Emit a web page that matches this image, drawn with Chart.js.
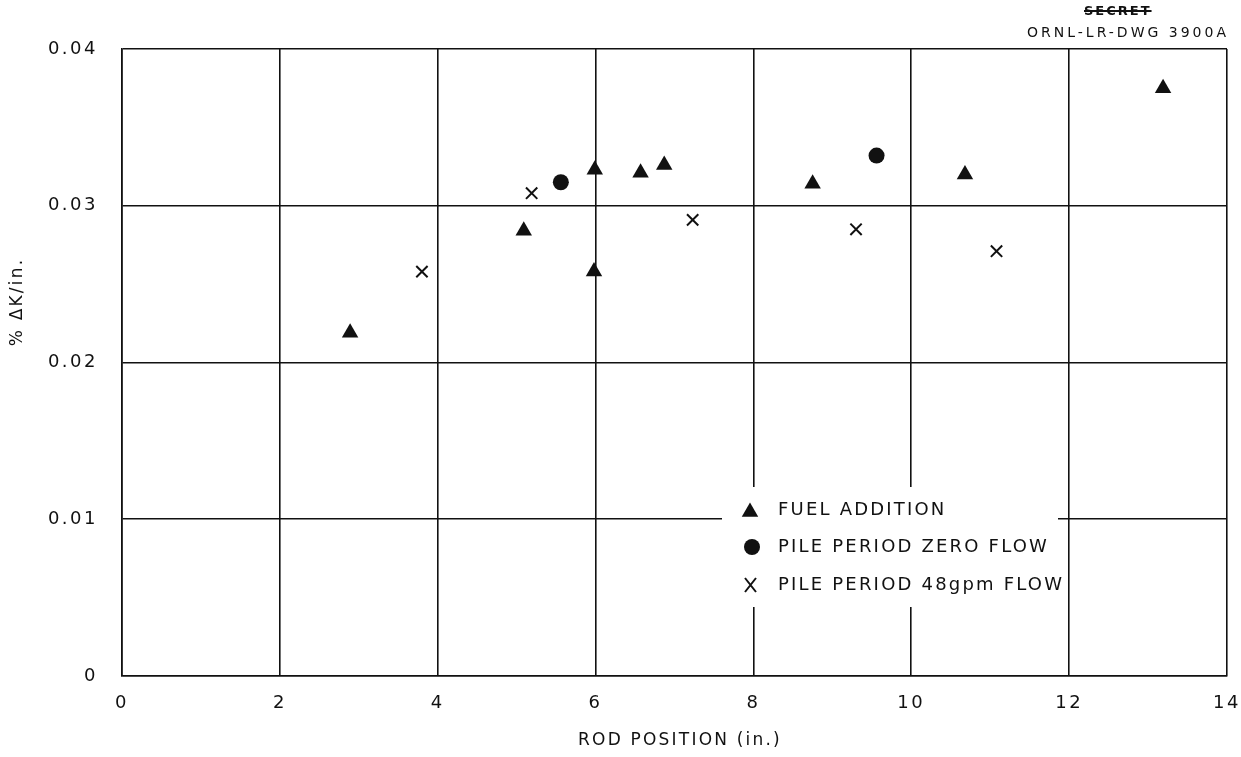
<!DOCTYPE html>
<html>
<head>
<meta charset="utf-8">
<script src="https://cdn.jsdelivr.net/npm/chart.js@4/dist/chart.umd.min.js"></script>
<style>
  html, body { margin: 0; padding: 0; background: #fff; }
  #wrap { position: relative; width: 1241px; height: 757px; }
  #c { position: absolute; left: 0; top: 0; }
  .lbl { position: absolute; font-family: "DejaVu Sans", sans-serif; color: #111; white-space: nowrap; }
  #secret { left: 1084px; top: 3px; font-size: 13px; font-weight: bold; letter-spacing: 2px; text-decoration: line-through; text-decoration-thickness: 2px; }
  #dwg { right: 12px; top: 24px; font-size: 14px; letter-spacing: 3px; }
</style>
</head>
<body>
<div id="wrap">
  <canvas id="c" width="1241" height="757"></canvas>
  <div class="lbl" id="secret">SECRET</div>
  <div class="lbl" id="dwg">ORNL-LR-DWG 3900A</div>
</div>
<script>
// ---- data ----
const fuelX = [2.89, 5.09, 5.99, 5.98, 6.57, 6.87, 8.75, 10.68, 13.19];
const fuelY = [0.0219, 0.0284, 0.0323, 0.0258, 0.0321, 0.0326, 0.0314, 0.0320, 0.0375];
const zeroX = [5.56, 9.56];
const zeroY = [0.0315, 0.0332];
const flowX = [3.80, 5.19, 7.23, 9.30, 11.08];
const flowY = [0.0258, 0.0308, 0.0291, 0.0285, 0.0271];
const xTicks = [0, 2, 4, 6, 8, 10, 12, 14];
const yTicks = [0, 0.01, 0.02, 0.03, 0.04];
const seriesNames = ["FUEL ADDITION", "PILE PERIOD ZERO FLOW", "PILE PERIOD 48gpm FLOW"];
const xTitle = "ROD POSITION (in.)";
const yTitle = "% \u0394K/in.";

const pts = (xs, ys) => xs.map((x, i) => ({ x: x, y: ys[i] }));
const INK = '#111';
const FONT = '"DejaVu Sans", sans-serif';

const decor = {
  id: 'decor',
  beforeDraw(chart) {
    chart.ctx.letterSpacing = '2.5px';
  },
  afterDatasetsDraw(chart) {
    const ctx = chart.ctx;
    ctx.save();
    // legend background (interrupts grid)
    ctx.fillStyle = '#fff';
    ctx.fillRect(722, 487, 336, 120);
    ctx.fillStyle = INK;
    ctx.strokeStyle = INK;
    // triangle
    const r = 9.5, tx = 750, ty = 512;
    ctx.beginPath();
    ctx.moveTo(tx, ty - r);
    ctx.lineTo(tx + r * Math.sin(2 * Math.PI / 3), ty + r / 2);
    ctx.lineTo(tx - r * Math.sin(2 * Math.PI / 3), ty + r / 2);
    ctx.closePath();
    ctx.fill();
    // circle
    ctx.beginPath();
    ctx.arc(752, 547, 8, 0, Math.PI * 2);
    ctx.fill();
    // X
    ctx.lineWidth = 2;
    ctx.beginPath();
    ctx.moveTo(745, 578); ctx.lineTo(756, 592);
    ctx.moveTo(756, 578); ctx.lineTo(745, 592);
    ctx.stroke();
    // legend text
    ctx.letterSpacing = '2.2px';
    ctx.font = '18px ' + FONT;
    ctx.textBaseline = 'middle';
    ctx.textAlign = 'left';
    ctx.fillText(seriesNames[0], 778, 510);
    ctx.fillText(seriesNames[1], 778, 547);
    ctx.fillText(seriesNames[2], 778, 585);
    ctx.restore();
  },
  afterDraw(chart) {
    const ctx = chart.ctx;
    ctx.save();
    ctx.fillStyle = INK;
    ctx.font = '17px ' + FONT;
    ctx.letterSpacing = '2.2px';
    ctx.textBaseline = 'middle';
    ctx.textAlign = 'center';
    ctx.fillText(xTitle, 680, 741);
    ctx.translate(18, 302);
    ctx.rotate(-Math.PI / 2);
    ctx.fillText(yTitle, 0, 0);
    ctx.restore();
  }
};

new Chart(document.getElementById('c'), {
  type: 'scatter',
  data: {
    datasets: [
      { label: seriesNames[0], data: pts(fuelX, fuelY), pointStyle: 'triangle', pointRadius: 9.5, pointHoverRadius: 9.5,
        backgroundColor: INK, borderColor: INK, borderWidth: 0 },
      { label: seriesNames[1], data: pts(zeroX, zeroY), pointStyle: 'circle', pointRadius: 8, pointHoverRadius: 8,
        backgroundColor: INK, borderColor: INK, borderWidth: 0 },
      { label: seriesNames[2], data: pts(flowX, flowY), pointStyle: 'crossRot', pointRadius: 8, pointHoverRadius: 8,
        backgroundColor: INK, borderColor: INK, borderWidth: 2 }
    ]
  },
  options: {
    responsive: false,
    animation: false,
    events: [],
    layout: { autoPadding: false, padding: { top: 49, right: 14, left: 0, bottom: 0 } },
    plugins: { legend: { display: false }, tooltip: { enabled: false } },
    scales: {
      x: {
        type: 'linear', min: 0, max: 14,
        afterBuildTicks(s) { s.ticks = xTicks.map(v => ({ value: v })); },
        afterFit(s) { s.height = 81; s.paddingLeft = 0; s.paddingRight = 0; },
        grid: { color: INK, lineWidth: 1.6, drawTicks: false },
        border: { display: true, color: INK, width: 1.6 },
        ticks: { color: INK, font: { family: FONT, size: 18 }, padding: 17, maxRotation: 0, autoSkip: false,
                 callback: v => String(v) }
      },
      y: {
        type: 'linear', min: 0, max: 0.04,
        afterBuildTicks(s) { s.ticks = yTicks.map(v => ({ value: v })); },
        afterFit(s) { s.width = 122; s.paddingTop = 0; s.paddingBottom = 0; },
        grid: { color: INK, lineWidth: 1.6, drawTicks: false },
        border: { display: true, color: INK, width: 1.6 },
        ticks: { color: INK, font: { family: FONT, size: 18 }, padding: 24,
                 callback: v => (v === 0 ? '0' : v.toFixed(2)) }
      }
    }
  },
  plugins: [decor]
});
</script>
</body>
</html>
